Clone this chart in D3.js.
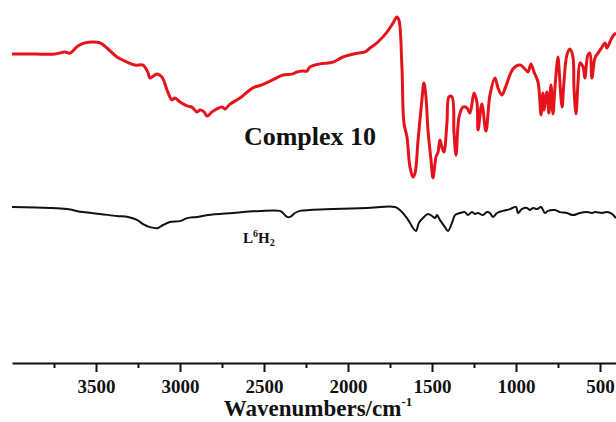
<!DOCTYPE html>
<html>
<head>
<meta charset="utf-8">
<script src="https://cdn.jsdelivr.net/npm/d3@7/dist/d3.min.js"></script>
<style>
  html, body { margin: 0; padding: 0; background: #fff; }
  svg { display: block; }
  text { font-family: "Liberation Serif", "Times New Roman", serif; font-weight: bold; }
</style>
</head>
<body>
<svg id="chart" width="616" height="422"></svg>
<script>
// FT-IR spectra: wavenumber (cm-1) vs. transmittance (a.u., offset per trace)
const complexWavenumbers = [4000, 3863, 3744, 3685, 3655, 3607, 3566, 3518, 3476, 3435, 3375, 3315, 3268, 3220, 3190, 3179, 3137, 3107, 3077, 3048, 3030, 3000, 2958, 2929, 2899, 2881, 2857, 2839, 2810, 2780, 2750, 2732, 2702, 2643, 2566, 2512, 2452, 2387, 2333, 2304, 2268, 2244, 2226, 2167, 2089, 2030, 1941, 1899, 1869, 1822, 1768, 1732, 1709, 1697, 1679, 1667, 1649, 1631, 1613, 1601, 1583, 1560, 1548, 1536, 1524, 1506, 1494, 1476, 1464, 1453, 1441, 1429, 1411, 1399, 1381, 1369, 1357, 1339, 1316, 1292, 1274, 1250, 1232, 1226, 1203, 1179, 1155, 1125, 1107, 1084, 1060, 1018, 976, 947, 929, 911, 893, 869, 851, 840, 834, 816, 804, 792, 780, 768, 750, 744, 726, 715, 697, 679, 661, 655, 643, 631, 619, 601, 590, 572, 560, 548, 530, 512, 488, 470, 459, 441, 423, 405];
const complexTransmittance = [103, 103, 103, 103.7, 103.3, 105.7, 106.7, 107, 106.7, 105, 102, 100.3, 99.3, 99.3, 96.7, 95, 96.3, 95.3, 91, 87.7, 88.3, 87, 85.7, 85.3, 83.7, 84.3, 83.7, 82.3, 83.7, 84.7, 85.3, 84.7, 86.3, 88.3, 91.7, 92.7, 94.3, 96, 96.3, 97, 97.3, 97.3, 98.7, 99.7, 100.3, 102, 103.3, 103.7, 105, 107, 110.3, 113.3, 115.3, 114.3, 98.7, 80, 75.3, 65.3, 62, 63.3, 74.3, 87.7, 93.3, 88.7, 77.7, 67.7, 61.7, 68.7, 70.3, 74.3, 72, 70.3, 80, 88.7, 88.7, 76.7, 69.3, 82, 85.3, 85, 83.3, 90, 86.7, 77.7, 86.3, 77.3, 89.3, 95, 91.7, 89.3, 92.3, 98, 99.3, 98, 97, 99.7, 97, 93.7, 82.7, 90, 84.3, 90.3, 83.3, 92.7, 83, 92, 102, 98.3, 85.3, 93.3, 102.7, 104.7, 102, 92, 83, 93.3, 100, 98.7, 95, 102.7, 103.3, 95, 101.7, 103.3, 105.3, 106.7, 105, 107, 109, 110];

const ligandWavenumbers = [4000, 3774, 3673, 3577, 3476, 3375, 3310, 3256, 3220, 3179, 3131, 3101, 3060, 3000, 2958, 2899, 2833, 2685, 2524, 2405, 2387, 2363, 2345, 2316, 2286, 2226, 2089, 1887, 1720, 1691, 1649, 1613, 1595, 1578, 1548, 1524, 1500, 1482, 1470, 1453, 1423, 1405, 1381, 1363, 1333, 1304, 1286, 1262, 1244, 1226, 1197, 1173, 1155, 1137, 1113, 1078, 1036, 1000, 988, 965, 935, 917, 899, 875, 851, 828, 810, 768, 738, 697, 661, 619, 578, 548, 530, 488, 459, 429, 405];
const ligandTransmittance = [52, 51.7, 51.3, 50.3, 49.7, 49, 48.7, 47.7, 46.3, 45.3, 45, 46, 47, 47.3, 48.3, 48.7, 49.3, 50, 50.7, 50.7, 50, 48.7, 48.7, 50, 50.7, 51, 51.3, 51.7, 52, 51, 48.3, 45, 44, 46.7, 48.7, 49.7, 49, 48.3, 49.3, 47.7, 45.3, 44, 46.7, 49.3, 50, 50.3, 49.3, 50.3, 49.7, 50, 49.3, 50.3, 50, 48.7, 50, 50.7, 51.3, 52, 50, 51.3, 51.7, 51, 51.7, 51.3, 52, 50, 50.7, 51, 50.3, 50, 49.3, 50, 50.3, 50, 50.3, 50, 50.3, 49.7, 48.3];

const majorTicks = [3500, 3000, 2500, 2000, 1500, 1000, 500];
const minorTicks = [3750, 3250, 2750, 2250, 1750, 1250, 750];
const seriesNames = ["Complex 10", "L6H2"];
const axisTitle = "Wavenumbers/cm";

const svg = d3.select("#chart");

const x = d3.scaleLinear().domain([4000, 400]).range([12, 616.8]);
const y = d3.scaleLinear().domain([0, 121]).range([363, 0]);

const line = d3.line()
  .x(d => x(d[0]))
  .y(d => y(d[1]))
  .curve(d3.curveCatmullRom.alpha(0.5));

const complex = d3.zip(complexWavenumbers, complexTransmittance);
const ligand = d3.zip(ligandWavenumbers, ligandTransmittance);

svg.append("path")
  .datum(ligand)
  .attr("d", line)
  .attr("fill", "none")
  .attr("stroke", "#111")
  .attr("stroke-width", 2)
  .attr("stroke-linejoin", "round");

svg.append("path")
  .datum(complex)
  .attr("d", line)
  .attr("fill", "none")
  .attr("stroke", "#e5141c")
  .attr("stroke-width", 3)
  .attr("stroke-linejoin", "round");

// bottom axis: major ticks with labels, minor ticks without
const axisY = y(0);
const minorAxis = svg.append("g")
  .attr("transform", `translate(0,${axisY})`)
  .call(d3.axisBottom(x).tickValues(minorTicks).tickSize(5).tickFormat(""));
minorAxis.select(".domain").remove();
minorAxis.selectAll("line").attr("stroke", "#111").attr("stroke-width", 2);

const majorAxis = svg.append("g")
  .attr("transform", `translate(0,${axisY})`)
  .call(d3.axisBottom(x).tickValues(majorTicks).tickSize(9).tickSizeOuter(0).tickPadding(8).tickFormat(d3.format("d")));
majorAxis.select(".domain").attr("stroke", "#111").attr("stroke-width", 2);
majorAxis.selectAll("line").attr("stroke", "#111").attr("stroke-width", 2);
majorAxis.selectAll("text")
  .attr("fill", "#111")
  .style("font-family", "'Liberation Serif', 'Times New Roman', serif")
  .style("font-weight", "bold")
  .style("font-size", "19px");

// axis title with superscript -1
const title = svg.append("text")
  .attr("x", 318)
  .attr("y", 416)
  .attr("text-anchor", "middle")
  .attr("fill", "#111")
  .style("font-size", "23px");
title.append("tspan").text(axisTitle);
title.append("tspan").attr("dy", -10).style("font-size", "13px").text("-1");

// series labels
svg.append("text")
  .attr("x", 310)
  .attr("y", 145)
  .attr("text-anchor", "middle")
  .attr("fill", "#111")
  .style("font-size", "26px")
  .text(seriesNames[0]);

const lig = svg.append("text")
  .attr("x", 243)
  .attr("y", 243)
  .attr("fill", "#111")
  .style("font-size", "15px");
lig.append("tspan").text("L");
lig.append("tspan").attr("dy", -6).style("font-size", "10px").text("6");
lig.append("tspan").attr("dy", 6).text("H");
lig.append("tspan").attr("dy", 3).style("font-size", "10px").text("2");
</script>
</body>
</html>
